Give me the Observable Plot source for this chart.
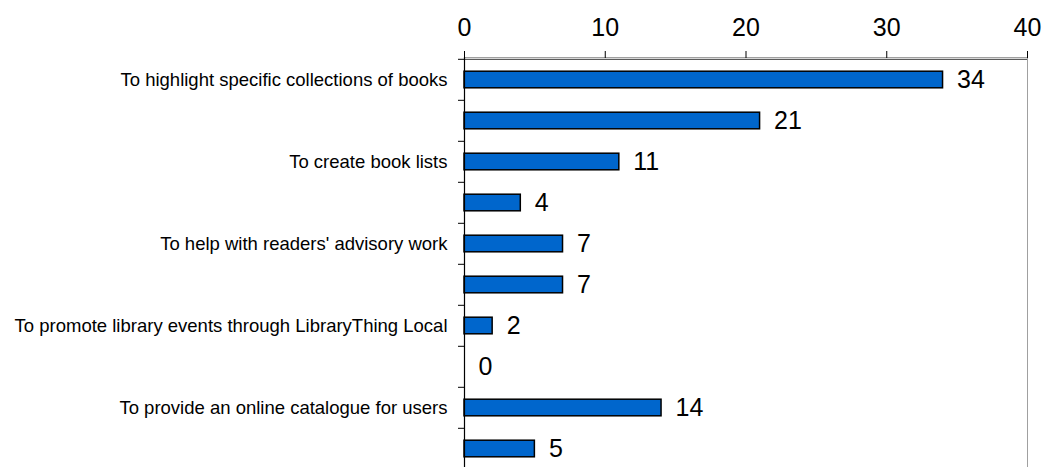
<!DOCTYPE html>
<html>
<head>
<meta charset="utf-8">
<script src="https://cdn.jsdelivr.net/npm/d3@7"></script>
<script src="https://cdn.jsdelivr.net/npm/@observablehq/plot@0.6"></script>
<style>
  html, body { margin: 0; padding: 0; background: #fff; overflow: hidden; }
  svg { font-family: Arial, "Liberation Sans", sans-serif; display: block; }
</style>
</head>
<body>
<div id="chart"></div>
<script>
// Category labels (Excel showed only every other label)
const labels = [
  "To highlight specific collections of books",
  "",
  "To create book lists",
  "",
  "To help with readers' advisory work",
  "",
  "To promote library events through LibraryThing Local",
  "",
  "To provide an online catalogue for users",
  ""
];
const values = [34, 21, 11, 4, 7, 7, 2, 0, 14, 5];
const xTicks = [0, 10, 20, 30, 40];

const data = values.map((v, i) => ({i, v}));
const step = 41.4;

const chart = Plot.plot({
  width: 1051,
  height: 481,
  marginTop: 57,
  marginBottom: 10,
  marginLeft: 464,
  marginRight: 24,
  style: {fontFamily: 'Arial, "Liberation Sans", sans-serif', color: "#000", background: "#fff"},
  x: {domain: [0, 40], ticks: xTicks, axis: null},
  y: {domain: d3.range(values.length), padding: 0, axis: null},
  marks: [
    Plot.frame({stroke: "#a0a0a0"}),
    Plot.axisX({anchor: "top", ticks: xTicks, tickSize: 7, tickFormat: () => "", label: null, stroke: "#000"}),
    Plot.axisX({anchor: "top", ticks: xTicks, tickSize: 0, tickPadding: 22, fontSize: 25, lineAnchor: "bottom", label: null}),
    Plot.ruleY([0], {y: d => d, dy: -step / 2, stroke: "#333", strokeWidth: 1}),
    Plot.axisY({anchor: "left", tickSize: 6, tickFormat: () => "", dy: -step / 2, label: null, stroke: "#000"}),
    Plot.axisY({anchor: "left", tickSize: 0, tickPadding: 17, fontSize: 18.5, tickFormat: i => labels[i], label: null}),
    Plot.barX(data, {x: "v", y: "i", fill: "#0066cc", stroke: "#000", strokeWidth: 1.5, insetTop: 12.2, insetBottom: 12.2}),
    Plot.ruleX([0], {stroke: "#000", strokeWidth: 1.2}),
    Plot.text(data, {x: "v", y: "i", text: d => String(d.v), dx: 14, textAnchor: "start", fontSize: 25, fill: "#000"})
  ]
});
// nudge: no-op
document.getElementById("chart").appendChild(chart);
</script>
</body>
</html>
